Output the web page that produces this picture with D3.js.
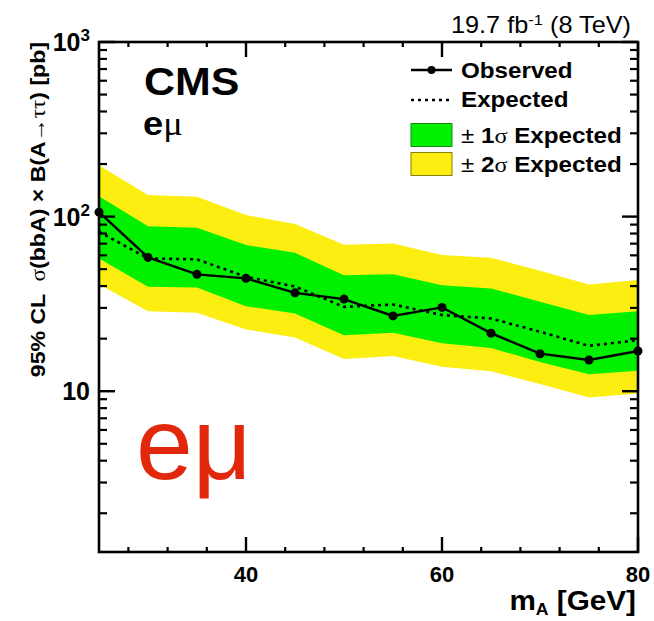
<!DOCTYPE html>
<html>
<head>
<meta charset="utf-8">
<script src="https://cdn.jsdelivr.net/npm/d3@7"></script>
<style>
  body { margin: 0; background: #fff; }
  text { font-family: "Liberation Sans", Arial, sans-serif; white-space: pre; }
  .greek { font-family: "Liberation Serif", "DejaVu Serif", serif; font-weight: normal; }
</style>
</head>
<body>
<div id="container"></div>
<script>
// mass points [GeV]
var mass = [25, 30, 35, 40, 45, 50, 55, 60, 65, 70, 75, 80];
// 95% CL limits [pb]
var observed = [106, 58.4, 46.7, 44.3, 36.6, 33.7, 27.0, 30.2, 21.5, 16.4, 15.1, 17.0];
var expected = [82, 57.6, 56.9, 45.2, 39.8, 30.4, 31.4, 27.3, 26.1, 21.9, 18.2, 19.6];
var oneSigmaUp = [131, 88.2, 86.3, 68.7, 62.0, 46.2, 46.8, 40.5, 38.8, 32.5, 27.3, 28.7];
var oneSigmaDown = [57.6, 39.6, 39.3, 30.7, 27.9, 20.9, 21.6, 18.8, 17.7, 14.7, 12.5, 13.1];
var twoSigmaUp = [197, 133, 130, 102, 90.6, 69.1, 70.2, 60.2, 58.1, 48.9, 40.9, 43.3];
var twoSigmaDown = [41.0, 28.7, 28.1, 22.6, 20.3, 15.3, 15.9, 13.8, 13.0, 11.0, 9.2, 9.7];

var xTicks = [40, 60, 80];
var yTicks = [10, 100, 1000];

//-----------------------------SVG------------------------------//
const width = 654;
const height = 621;
const fLeft = 99, fRight = 638, fTop = 42, fBottom = 552;
const stretch = 1.1; // reference text is a bit wide

const svg = d3.select("div#container").append("svg")
    .attr("width", width)
    .attr("height", height);

//----------------------------SCALES----------------------------//
const xScale = d3.scaleLinear().domain([25, 80]).range([fLeft, fRight]);
const yScale = d3.scaleLog().domain([1.2, 1000]).range([fBottom, fTop]);

const rows = mass.map(function(m, i) {
    return {m: m, obs: observed[i], exp: expected[i],
            u1: oneSigmaUp[i], d1: oneSigmaDown[i],
            u2: twoSigmaUp[i], d2: twoSigmaDown[i]};
});

svg.append("clipPath").attr("id", "frame")
  .append("rect")
    .attr("x", fLeft).attr("y", fTop)
    .attr("width", fRight - fLeft).attr("height", fBottom - fTop);

const plot = svg.append("g").attr("clip-path", "url(#frame)");

//----------------------------BANDS-----------------------------//
function band(lo, hi) {
    return d3.area()
        .x(function(d) { return xScale(d.m); })
        .y0(function(d) { return yScale(d[lo]); })
        .y1(function(d) { return yScale(d[hi]); });
}

plot.append("path").datum(rows)
    .attr("d", band("d2", "u2"))
    .attr("fill", "#fbee10");

plot.append("path").datum(rows)
    .attr("d", band("d1", "u1"))
    .attr("fill", "#00f000");

//----------------------------LINES-----------------------------//
const expLine = d3.line()
    .x(function(d) { return xScale(d.m); })
    .y(function(d) { return yScale(d.exp); });
const obsLine = d3.line()
    .x(function(d) { return xScale(d.m); })
    .y(function(d) { return yScale(d.obs); });

plot.append("path").datum(rows)
    .attr("d", expLine)
    .attr("fill", "none")
    .attr("stroke", "#000")
    .attr("stroke-width", 2.6)
    .attr("stroke-dasharray", "3,4");

svg.append("path").datum(rows)
    .attr("d", obsLine)
    .attr("fill", "none")
    .attr("stroke", "#000")
    .attr("stroke-width", 2.4);

svg.selectAll("circle.obs")
    .data(rows)
    .enter()
    .append("circle")
    .attr("class", "obs")
    .attr("cx", function(d) { return xScale(d.m); })
    .attr("cy", function(d) { return yScale(d.obs); })
    .attr("r", 4.5)
    .attr("fill", "#000");

//-----------------------------AXES-----------------------------//
const axes = svg.append("g").attr("stroke", "#000");

axes.append("rect")
    .attr("x", fLeft).attr("y", fTop)
    .attr("width", fRight - fLeft).attr("height", fBottom - fTop)
    .attr("fill", "none")
    .attr("stroke-width", 2.6);

// x ticks (major every 20, minor every 4), mirrored on top
var xMinor = d3.range(28, 80, 4).filter(function(v) { return xTicks.indexOf(v) < 0; });
xTicks.forEach(function(v) {
    var x = xScale(v);
    axes.append("line").attr("x1", x).attr("x2", x).attr("y1", fBottom).attr("y2", fBottom - 15).attr("stroke-width", 2.4);
    axes.append("line").attr("x1", x).attr("x2", x).attr("y1", fTop).attr("y2", fTop + 15).attr("stroke-width", 2.4);
});
xMinor.forEach(function(v) {
    var x = xScale(v);
    axes.append("line").attr("x1", x).attr("x2", x).attr("y1", fBottom).attr("y2", fBottom - 5).attr("stroke-width", 2.2);
    axes.append("line").attr("x1", x).attr("x2", x).attr("y1", fTop).attr("y2", fTop + 5).attr("stroke-width", 2.2);
});

// y ticks (log decades + minor 2..9), mirrored on the right
var yMinor = [];
[1, 10, 100].forEach(function(dec) {
    for (var k = 2; k <= 9; k++) {
        if (dec * k >= 1.2) yMinor.push(dec * k);
    }
});
yTicks.forEach(function(v) {
    var y = yScale(v);
    axes.append("line").attr("x1", fLeft).attr("x2", fLeft + 16).attr("y1", y).attr("y2", y).attr("stroke-width", 2.4);
    axes.append("line").attr("x1", fRight).attr("x2", fRight - 16).attr("y1", y).attr("y2", y).attr("stroke-width", 2.4);
});
yMinor.forEach(function(v) {
    var y = yScale(v);
    axes.append("line").attr("x1", fLeft).attr("x2", fLeft + 8).attr("y1", y).attr("y2", y).attr("stroke-width", 2.2);
    axes.append("line").attr("x1", fRight).attr("x2", fRight - 8).attr("y1", y).attr("y2", y).attr("stroke-width", 2.2);
});

// tick labels
svg.selectAll("text.xlab")
    .data(xTicks)
    .enter()
    .append("text")
    .attr("class", "xlab")
    .attr("x", function(d) { return xScale(d); })
    .attr("y", 582)
    .attr("text-anchor", "middle")
    .attr("font-weight", "bold")
    .attr("font-size", 22)
    .text(function(d) { return d; });

yTicks.forEach(function(v) {
    var t = svg.append("text")
        .attr("x", 90)
        .attr("y", yScale(v) + 9)
        .attr("text-anchor", "end")
        .attr("font-weight", "bold")
        .attr("font-size", 25);
    var e = Math.round(Math.log10(v));
    if (e === 1) {
        t.text("10");
    } else {
        t.append("tspan").text("10");
        t.append("tspan").attr("dy", -10).attr("font-size", 17).text(e);
    }
});

// text placed with a slight horizontal stretch
function wideText(x, y, extra) {
    return svg.append("text")
        .attr("transform", "translate(" + x + "," + y + ")" + (extra || "") + " scale(" + stretch + ",1)");
}

// axis titles
var xt = wideText(636, 610)
    .attr("text-anchor", "end")
    .attr("font-weight", "bold")
    .attr("font-size", 27);
xt.append("tspan").text("m");
xt.append("tspan").attr("dy", 5).attr("font-size", 16).text("A");
xt.append("tspan").attr("dy", -5).text(" [GeV]");

var yt = wideText(45, fTop, " rotate(-90)")
    .attr("text-anchor", "end")
    .attr("font-weight", "bold")
    .attr("font-size", 21);
yt.append("tspan").text("95% CL  ");
yt.append("tspan").attr("class", "greek").text("σ");
yt.append("tspan").text("(bbA) × B(A→");
yt.append("tspan").attr("class", "greek").text("ττ");
yt.append("tspan").text(") [pb]");

//---------------------------LABELS-----------------------------//
var lumi = wideText(631, 33)
    .attr("text-anchor", "end")
    .attr("font-size", 23);
lumi.append("tspan").text("19.7 fb");
lumi.append("tspan").attr("dy", -8).attr("font-size", 15).text("-1");
lumi.append("tspan").attr("dy", 8).text(" (8 TeV)");

wideText(144, 95)
    .attr("font-weight", "bold")
    .attr("font-size", 39)
    .text("CMS");

var ch = wideText(143, 135)
    .attr("font-weight", "bold")
    .attr("font-size", 33);
ch.append("tspan").text("e");
ch.append("tspan").attr("class", "greek").text("μ");

svg.append("text")
    .attr("x", 136)
    .attr("y", 479)
    .attr("font-size", 102)
    .attr("fill", "#e2280c")
    .text("eμ");

//---------------------------LEGEND-----------------------------//
var legX = 411, legW = 41, textX = 461;
var lg = svg.append("g");

lg.append("line").attr("x1", legX).attr("x2", legX + legW).attr("y1", 70).attr("y2", 70)
    .attr("stroke", "#000").attr("stroke-width", 2.4);
lg.append("circle").attr("cx", legX + legW / 2).attr("cy", 70).attr("r", 4).attr("fill", "#000");
lg.append("line").attr("x1", legX).attr("x2", legX + legW).attr("y1", 100).attr("y2", 100)
    .attr("stroke", "#000").attr("stroke-width", 2.6).attr("stroke-dasharray", "3,4");
lg.append("rect").attr("x", legX).attr("y", 123.5).attr("width", legW).attr("height", 23)
    .attr("fill", "#00f000").attr("stroke", "#1a8a1a").attr("stroke-width", 1);
lg.append("rect").attr("x", legX).attr("y", 152.5).attr("width", legW).attr("height", 23)
    .attr("fill", "#fbee10").attr("stroke", "#8a8000").attr("stroke-width", 1);

function legText(y) {
    return wideText(textX, y)
        .attr("font-weight", "bold").attr("font-size", 22);
}
legText(78).text("Observed");
legText(107).text("Expected");
var l1 = legText(143);
l1.append("tspan").attr("font-weight", "normal").text("± ");
l1.append("tspan").text("1");
l1.append("tspan").attr("class", "greek").text("σ");
l1.append("tspan").text(" Expected");
var l2 = legText(172);
l2.append("tspan").attr("font-weight", "normal").text("± ");
l2.append("tspan").text("2");
l2.append("tspan").attr("class", "greek").text("σ");
l2.append("tspan").text(" Expected");
</script>
</body>
</html>
